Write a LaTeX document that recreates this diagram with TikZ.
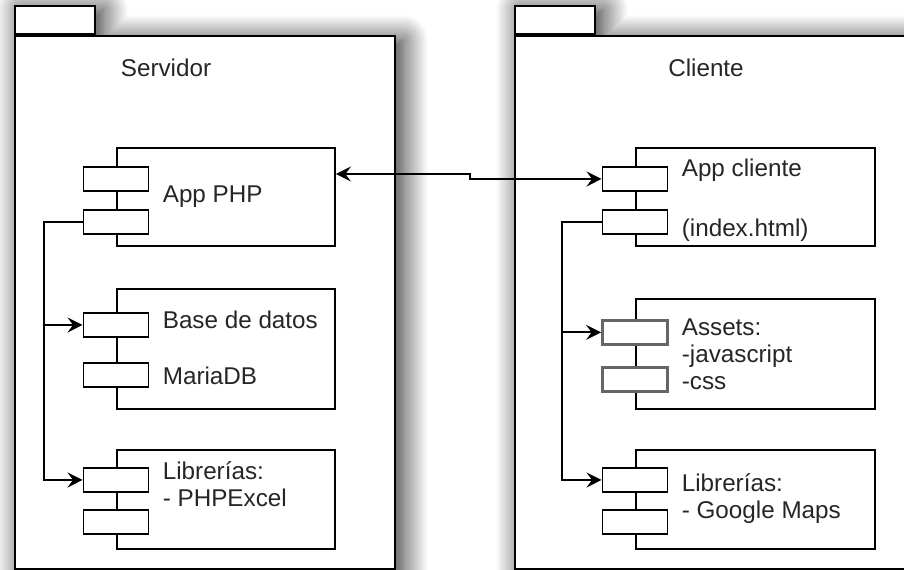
\documentclass[tikz,border=0pt]{standalone}
\usepackage{fontspec}
\setmainfont{Liberation Sans}
\usetikzlibrary{positioning, arrows.meta, backgrounds, shadows.blur}

\tikzset{
    pkgbody/.style={draw, line width=1.3pt, fill=white, anchor=north west, minimum height=10.66cm},
    pkgtab/.style={draw, line width=1.3pt, fill=white, anchor=south west, minimum width=1.6cm, minimum height=0.56cm},
    pkgshadow/.style={blur shadow={shadow xshift=0.14cm, shadow yshift=-0.1cm, shadow blur radius=0.5cm, shadow blur steps=20, shadow opacity=85}},
    comp/.style={draw, line width=1.1pt, fill=white, anchor=north west},
    port/.style={draw, line width=1.1pt, fill=white, minimum width=1.3cm, minimum height=0.48cm},
    greyport/.style={port, draw=black!60, line width=1.6pt},
    txt/.style={font=\fontsize{13.8}{15.4}\selectfont, text=black!85, align=left, inner sep=0pt, anchor=west},
    link/.style={line width=1.1pt},
    tip/.style={-{Stealth[length=3mm, width=3mm, inset=1.1mm]}}
}

\begin{document}
\begin{tikzpicture}[x=0.02cm, y=-0.02cm]
    \useasboundingbox (0,0) rectangle (904,569);

    % packages
    \node [pkgbody, minimum width=7.6cm] (srv) at (14,35) {};
    \node [pkgtab] (srvtab) at (srv.north west) {};
    \node [pkgbody, minimum width=8.4cm] (cli) at (514,35) {};
    \node [pkgtab] (clitab) at (cli.north west) {};

    \begin{scope}[on background layer]
        \path [pkgshadow] (srvtab.north west) -- (srvtab.north east) -- (srvtab.south east)
            -- (srv.north east) -- (srv.south east) -- (srv.south west) -- cycle;
        \path [pkgshadow] (clitab.north west) -- (clitab.north east) -- (clitab.south east)
            -- (cli.north east) -- (cli.south east) -- (cli.south west) -- cycle;
    \end{scope}

    \node [txt, anchor=center] (srvname) at (166,68) {Servidor};
    \node [txt, anchor=center] (cliname) at (706,68) {Cliente};

    % server side
    \node [comp, minimum width=4.36cm, minimum height=1.96cm] (php) at (116,147) {};
    \node [comp, minimum width=4.36cm, minimum height=2.4cm] (db) at (116,288) {};
    \node [comp, minimum width=4.36cm, minimum height=1.98cm] (lib) at (116,449) {};

    \node [port, below=0.38cm of php.north west] (php1) {};
    \node [port, below=0.35cm of php1] (php2) {};
    \node [port, below=0.48cm of db.north west] (db1) {};
    \node [port, below=0.48cm of db1] (db2) {};
    \node [port, below=0.36cm of lib.north west] (lib1) {};
    \node [port, below=0.32cm of lib1] (lib2) {};

    \node [txt, right=0.93cm of php.west] (phpname) {App PHP};
    \node [txt, right=0.93cm of db.west, yshift=0.02cm] (dbname) {Base de datos\\[0.58cm]MariaDB};
    \node [txt, right=0.93cm of lib.west, yshift=0.04cm] (libname) {Librerías:\\- PHPExcel\\\mbox{}};

    % client side
    \node [comp, minimum width=4.78cm, minimum height=1.96cm] (app) at (635,147) {};
    \node [comp, minimum width=4.78cm, minimum height=2.2cm] (assets) at (635,298) {};
    \node [comp, minimum width=4.78cm, minimum height=1.98cm] (maps) at (635,449) {};

    \node [port, below=0.38cm of app.north west] (app1) {};
    \node [port, below=0.35cm of app1] (app2) {};
    \node [greyport, below=0.42cm of assets.north west] (assets1) {};
    \node [greyport, below=0.4cm of assets1] (assets2) {};
    \node [port, below=0.36cm of maps.north west] (maps1) {};
    \node [port, below=0.32cm of maps1] (maps2) {};

    \node [txt, right=0.93cm of app.west, yshift=-0.07cm] (appname) {App cliente\\[0.66cm](index.html)};
    \node [txt, right=0.93cm of assets.west] (assetsname) {Assets:\\-javascript\\-css};
    \node [txt, right=0.93cm of maps.west, yshift=0.02cm] (mapsname) {Librerías:\\- Google Maps};

    % connectors
    \coordinate (phpin) at ([yshift=-0.54cm]php.north east);
    \draw [link, {Stealth[length=3mm, width=3mm, inset=1.1mm]}-{Stealth[length=3mm, width=3mm, inset=1.1mm]}]
        (phpin) -- ++(134,0) |- (app1.west);

    \draw [link, tip] (php2.west) -- ++(-39,0) coordinate (srvbus) |- (lib1.west);
    \draw [link, tip] (srvbus |- db1.west) -- (db1.west);

    \draw [link, tip] (app2.west) -- ++(-40,0) coordinate (clibus) |- (maps1.west);
    \draw [link, tip] (clibus |- assets1.west) -- (assets1.west);
\end{tikzpicture}
\end{document}
